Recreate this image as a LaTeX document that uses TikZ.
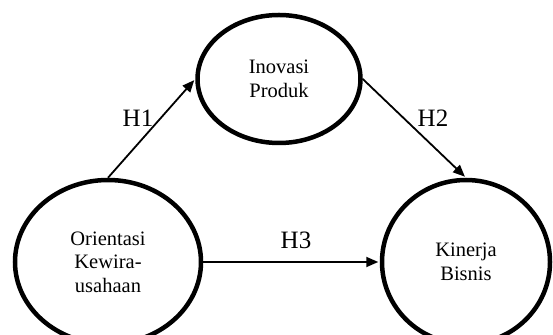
\documentclass[tikz,border=0pt]{standalone}
\usepackage{fontspec}
\setmainfont{Liberation Serif}
\usetikzlibrary{shapes.geometric,arrows.meta}
\tikzset{
  var/.style={draw, ellipse, line width=4.5pt, inner sep=0pt, align=center,
    font=\fontsize{20.5}{23.5}\selectfont},
  link/.style={line width=1.8pt, -{Triangle[length=12pt,width=10pt]}, shorten >=1.5pt},
  hyp/.style={font=\fontsize{25}{28}\selectfont}
}
\begin{document}
\begin{tikzpicture}[x=1pt,y=1pt]
\useasboundingbox (0,0) rectangle (553,334);
\clip (0,0) rectangle (553,334);
\node[var, minimum width=163pt, minimum height=128pt] (ip) at (279,255) {Inovasi\\Produk};
\node[var, minimum width=186pt, minimum height=164pt] (ok) at (108,72) {Orientasi\\Kewira-\\usahaan};
\node[var, minimum width=168pt, minimum height=164pt] (kb) at (466,72) {Kinerja\\Bisnis};
\draw[link] (ok.north) -- (ip.west);
\draw[link] (ip.east) -- (kb.north);
\draw[link] (ok.east) -- (kb.west);
\node[hyp] (h1) at (138,216) {H1};
\node[hyp] (h2) at (433,216) {H2};
\node[hyp] (h3) at (296,94) {H3};
\end{tikzpicture}
\end{document}
